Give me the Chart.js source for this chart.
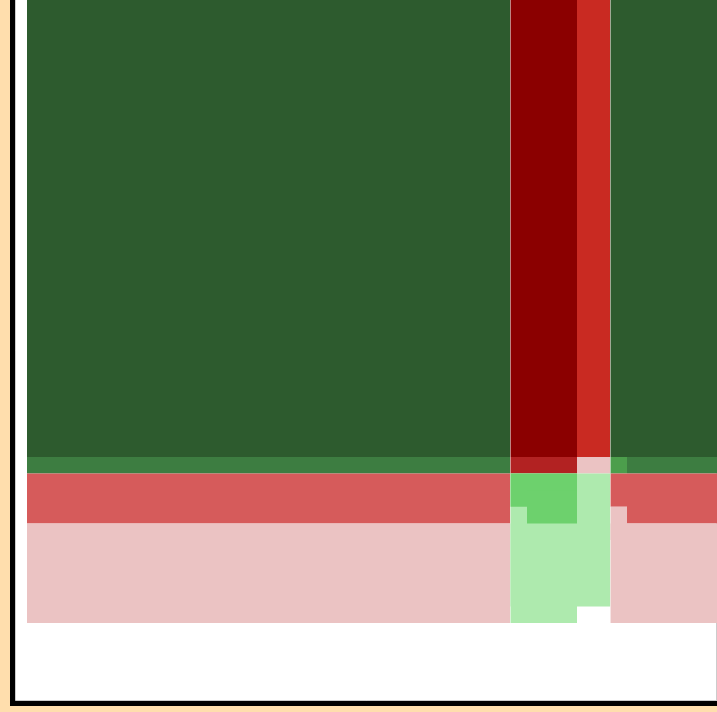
<!DOCTYPE html>
<html>
<head>
<meta charset="utf-8">
<title>Block heatmap</title>
<script src="https://cdn.jsdelivr.net/npm/chart.js@4.4.1/dist/chart.umd.min.js"></script>
<style>
  html, body { margin: 0; padding: 0; background: #ffdead; overflow: hidden; }
  #frame {
    position: absolute; left: 10px; top: 0;
    width: 702px; height: 701px;
    border-left: 5px solid #000; border-bottom: 5px solid #000;
    background: #fff;
  }
  canvas { display: block; }
</style>
</head>
<body>
<div id="frame"><canvas id="heat" width="702" height="701"></canvas></div>
<script>
// each block: column span, row span (grid units) and its level;
// later blocks are painted over earlier ones
const blockCols = [
  [0, 29], [29, 33], [33, 35], [35, 42],
  [0, 29], [29, 33], [33, 35], [35, 36], [36, 42],
  [0, 29], [35, 42], [36, 42],
  [0, 29], [35, 42], [35, 36],
  [29, 35], [29, 33],
  [29, 33], [30, 33]
];
const blockRows = [
  [10, 40], [10, 40], [10, 40], [10, 40],
  [9, 10], [9, 10], [9, 10], [9, 10], [9, 10],
  [6, 9], [7, 9], [6, 8],
  [0, 6], [0, 6], [5, 7],
  [1, 9], [0, 6],
  [7, 9], [6, 8]
];
const blockValues = [
  5, -5, -3, 5,
  4, -4, -1, 3, 4,
  -2, -2, -2,
  -1, -1, -1,
  1, 1,
  2, 2
];
// vertical rule lines on the x axis
const xRules = [41.35];

const levelColors = {
  '-5': '#8b0000', '-4': '#b22222', '-3': '#c92a22', '-2': '#d65b5b', '-1': '#ebc3c3',
  '1': '#aeeaae', '2': '#6dd16d', '3': '#4c9e4c', '4': '#3d7d41', '5': '#2d5b2e'
};

// every block is a flat line along its top edge, filled down to its bottom edge
const datasets = blockValues.map((v, i) => ({
  data: [
    { x: blockCols[i][0], y: blockRows[i][1] },
    { x: blockCols[i][1], y: blockRows[i][1] }
  ],
  backgroundColor: levelColors[v],
  fill: { value: blockRows[i][0] },
  borderWidth: 0,
  pointRadius: 0,
  order: -i
}));

const ruleColor = 'rgba(0,0,0,0.2)';

const heatChart = new Chart(document.getElementById('heat').getContext('2d'), {
  type: 'line',
  data: { datasets },
  options: {
    responsive: false,
    animation: false,
    events: [],
    layout: { padding: { bottom: 1 } },
    plugins: {
      legend: { display: false },
      tooltip: { enabled: false }
    },
    scales: {
      x: {
        type: 'linear',
        min: -0.72,
        max: 41.4,
        afterBuildTicks: scale => { scale.ticks = xRules.map(value => ({ value })); },
        ticks: { display: false },
        grid: { drawTicks: false, color: ruleColor },
        border: { display: true, color: ruleColor }
      },
      y: {
        type: 'linear',
        min: -4.639,
        max: 37.53,
        ticks: { display: false },
        grid: { display: false, drawTicks: false },
        border: { display: true, color: ruleColor }
      }
    }
  }
});
</script>
</body>
</html>
